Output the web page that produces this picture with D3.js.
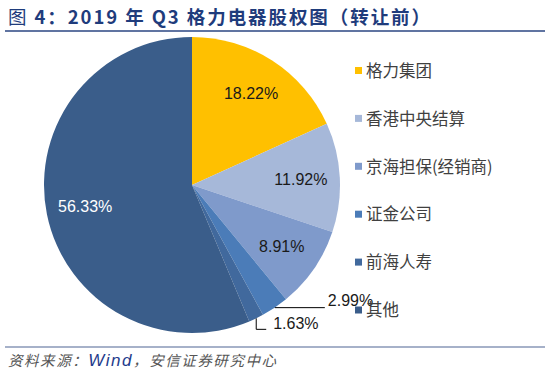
<!DOCTYPE html>
<meta charset="utf-8">
<script src="https://d3js.org/d3.v7.min.js"></script>
<style>
  body { margin: 0; background: #fff; }
</style>
<div id="chart"></div>
<script>

// data
var names = ["格力集团", "香港中央结算", "京海担保(经销商)", "证金公司", "前海人寿", "其他"];
var values = [18.22, 11.92, 8.91, 2.99, 1.63, 56.33];
var colors = ["#FFC000", "#A6B8D9", "#7F9ACB", "#4B7CB8", "#41699D", "#3A5D8A"];

var width = 550, height = 375;
var cx = 192, cy = 185, radius = 148;

var svg = d3.select("#chart").append("svg")
  .attr("width", width)
  .attr("height", height);

// title
var title = svg.append("text")
  .attr("x", 8)
  .attr("y", 24)
  .attr("textLength", 422)
  .attr("lengthAdjust", "spacing")
  .style("font-family", "'Noto Sans CJK SC', sans-serif")
  .style("font-size", "18.5px")
  .style("fill", "#1F3C7C");
title.append("tspan").text("图 ");
title.append("tspan").style("font-weight", "bold").text("4：2019 年 Q3 格力电器股权图（转让前）");

svg.append("line")
  .attr("x1", 5).attr("x2", 545)
  .attr("y1", 31).attr("y2", 31)
  .style("stroke", "#2B4682")
  .style("stroke-width", 1.5);

svg.append("line")
  .attr("x1", 5).attr("x2", 545)
  .attr("y1", 347).attr("y2", 347)
  .style("stroke", "#4F6494")
  .style("stroke-width", 1.2);

// source
var src = svg.append("text")
  .attr("x", 8)
  .attr("y", 366)
  .attr("textLength", 268)
  .attr("lengthAdjust", "spacing")
  .style("font-family", "'Noto Sans CJK SC', sans-serif")
  .style("font-style", "italic")
  .style("font-size", "14.5px")
  .style("fill", "#555");
src.append("tspan").text("资料来源：");
src.append("tspan").style("fill", "#1F3C8C").style("font-family", "'Liberation Sans', Arial, sans-serif").style("font-size", "17px").text("Wind");
src.append("tspan").text("，安信证券研究中心");

// pie
var pie = d3.pie().sort(null).value(function(d) { return d; });
var arcs = pie(values);
var arc = d3.arc().innerRadius(0).outerRadius(radius);
var labelArc = d3.arc().innerRadius(109).outerRadius(109);

var g = svg.append("g")
  .attr("transform", "translate(" + cx + "," + cy + ")");

g.selectAll("path")
  .data(arcs)
  .enter()
  .append("path")
    .attr("d", arc)
    .style("fill", function(d, i) { return colors[i]; });

var fmt = function(v) { return v.toFixed(2) + "%"; };

// labels inside the big slices
g.selectAll(".lbl")
  .data(arcs.filter(function(d) { return d.value > 5; }))
  .enter()
  .append("text")
    .attr("class", "lbl")
    .attr("transform", function(d) { return "translate(" + labelArc.centroid(d) + ")"; })
    .attr("text-anchor", "middle")
    .attr("dy", "0.35em")
    .style("font-family", "'Liberation Sans', Arial, sans-serif")
    .style("font-size", "16px")
    .style("fill", function(d) { return d.index == 5 ? "#fff" : "#1a1a1a"; })
    .text(function(d) { return fmt(d.value); });

// leader labels for the small slices
function edge(d) {
  var a = (d.startAngle + d.endAngle) / 2;
  return [radius * Math.sin(a), -radius * Math.cos(a)];
}

var s1 = arcs[3], p1 = edge(s1);
g.append("path")
  .attr("d", "M" + p1[0] + "," + p1[1] + "H" + (p1[0] + 50))
  .style("stroke", "#000").style("fill", "none").style("stroke-width", 1);
g.append("text")
  .attr("x", p1[0] + 53).attr("y", p1[1] - 2)
  .style("font-family", "'Liberation Sans', Arial, sans-serif")
  .style("font-size", "16px").style("fill", "#1a1a1a")
  .text(fmt(s1.value));

var s2 = arcs[4], p2 = edge(s2);
g.append("path")
  .attr("d", "M" + p2[0] + "," + p2[1] + "V" + (p2[1] + 11) + "H" + (p2[0] + 10))
  .style("stroke", "#000").style("fill", "none").style("stroke-width", 1);
g.append("text")
  .attr("x", p2[0] + 17).attr("y", p2[1] + 11)
  .style("font-family", "'Liberation Sans', Arial, sans-serif")
  .style("font-size", "16px").style("fill", "#1a1a1a")
  .text(fmt(s2.value));

// legend
var legend = svg.selectAll(".leg")
  .data(names)
  .enter()
  .append("g")
    .attr("class", "leg")
    .attr("transform", function(d, i) { return "translate(355," + (71 + i * 47.9) + ")"; });

legend.append("rect")
  .attr("x", 0).attr("y", -4)
  .attr("width", 7).attr("height", 7)
  .style("fill", function(d, i) { return colors[i]; });

legend.append("text")
  .attr("x", 11)
  .attr("dy", "0.35em")
  .style("font-family", "'Noto Sans CJK SC', sans-serif")
  .style("font-size", "16.5px")
  .style("fill", "#404040")
  .text(function(d) { return d; });

</script>
